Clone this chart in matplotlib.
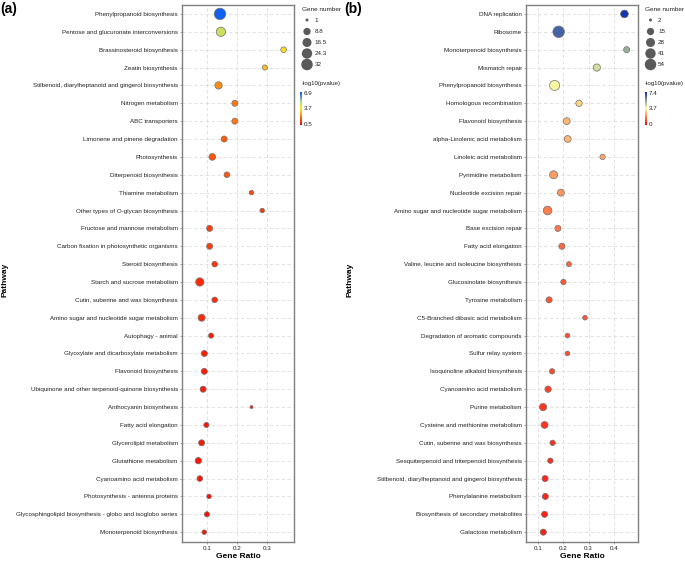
import matplotlib
matplotlib.use("Agg")
import matplotlib.pyplot as plt
import numpy as np
from matplotlib.colors import LinearSegmentedColormap, Normalize

plt.rcParams['font.family'] = ['Liberation Sans', 'DejaVu Sans']

# ---------------- Panel (a) data ----------------
a_pathways = [
    "Phenylpropanoid biosynthesis",
    "Pentose and glucuronate interconversions",
    "Brassinosteroid biosynthesis",
    "Zeatin biosynthesis",
    "Stilbenoid, diarylheptanoid and gingerol biosynthesis",
    "Nitrogen metabolism",
    "ABC transporters",
    "Limonene and pinene degradation",
    "Photosynthesis",
    "Diterpenoid biosynthesis",
    "Thiamine metabolism",
    "Other types of O-glycan biosynthesis",
    "Fructose and mannose metabolism",
    "Carbon fixation in photosynthetic organisms",
    "Steroid biosynthesis",
    "Starch and sucrose metabolism",
    "Cutin, suberine and wax biosynthesis",
    "Amino sugar and nucleotide sugar metabolism",
    "Autophagy - animal",
    "Glyoxylate and dicarboxylate metabolism",
    "Flavonoid biosynthesis",
    "Ubiquinone and other terpenoid-quinone biosynthesis",
    "Anthocyanin biosynthesis",
    "Fatty acid elongation",
    "Glycerolipid metabolism",
    "Glutathione metabolism",
    "Cyanoamino acid metabolism",
    "Photosynthesis - antenna proteins",
    "Glycosphingolipid biosynthesis - globo and isoglobo series",
    "Monoterpenoid biosynthesis",
]
a_ratio = [0.143, 0.146, 0.357, 0.294, 0.138, 0.193, 0.193, 0.157, 0.117, 0.166,
           0.249, 0.285, 0.108, 0.108, 0.125, 0.075, 0.125, 0.081, 0.113, 0.090,
           0.090, 0.086, 0.249, 0.097, 0.081, 0.070, 0.075, 0.106, 0.099, 0.090]
a_count = [32, 18, 4, 3, 9, 5, 5, 5, 7, 4,
           2, 2, 5, 5, 4, 13, 4, 8, 3, 5,
           5, 5, 1, 3, 5, 6, 4, 2, 3, 2]
a_logp = [6.9, 4.6, 3.5, 3.0, 2.3, 2.0, 2.0, 1.6, 1.5, 1.5,
          1.3, 1.1, 1.2, 1.2, 1.0, 0.9, 0.9, 0.9, 0.7, 0.7,
          0.7, 0.7, 0.6, 0.6, 0.6, 0.6, 0.6, 0.5, 0.5, 0.5]
a_size_breaks = [1, 8.8, 16.5, 24.3, 32]
a_size_labels = ["1", "8.8", "16.5", "24.3", "32"]
a_color_ticks = [0.5, 3.7, 6.9]
a_color_labels = ["0.5", "3.7", "6.9"]
a_xticks = [0.1, 0.2, 0.3]

# ---------------- Panel (b) data ----------------
b_pathways = [
    "DNA replication",
    "Ribosome",
    "Monoterpenoid biosynthesis",
    "Mismatch repair",
    "Phenylpropanoid biosynthesis",
    "Homologous recombination",
    "Flavonoid biosynthesis",
    "alpha-Linolenic acid metabolism",
    "Linoleic acid metabolism",
    "Pyrimidine metabolism",
    "Nucleotide excision repair",
    "Amino sugar and nucleotide sugar metabolism",
    "Base excision repair",
    "Fatty acid elongation",
    "Valine, leucine and isoleucine biosynthesis",
    "Glucosinolate biosynthesis",
    "Tyrosine metabolism",
    "C5-Branched dibasic acid metabolism",
    "Degradation of aromatic compounds",
    "Sulfur relay system",
    "Isoquinoline alkaloid biosynthesis",
    "Cyanoamino acid metabolism",
    "Purine metabolism",
    "Cysteine and methionine metabolism",
    "Cutin, suberine and wax biosynthesis",
    "Sesquiterpenoid and triterpenoid biosynthesis",
    "Stilbenoid, diarylheptanoid and gingerol biosynthesis",
    "Phenylalanine metabolism",
    "Biosynthesis of secondary metabolites",
    "Galactose metabolism",
]
b_ratio = [0.443, 0.181, 0.452, 0.333, 0.165, 0.262, 0.213, 0.217, 0.356, 0.161,
           0.190, 0.137, 0.178, 0.194, 0.222, 0.200, 0.143, 0.286, 0.216, 0.216,
           0.155, 0.139, 0.119, 0.125, 0.157, 0.148, 0.127, 0.128, 0.125, 0.120]
b_count = [18, 54, 9, 15, 37, 10, 13, 13, 6, 20,
           13, 25, 9, 9, 5, 6, 9, 4, 4, 4,
           6, 10, 15, 13, 6, 6, 9, 9, 9, 9]
b_logp = [7.4, 6.6, 5.3, 4.4, 3.8, 3.0, 2.6, 2.6, 2.3, 2.2,
          2.1, 1.7, 1.6, 1.4, 1.3, 1.2, 1.1, 1.1, 1.0, 1.0,
          0.9, 0.8, 0.6, 0.6, 0.5, 0.5, 0.4, 0.4, 0.3, 0.3]
b_size_breaks = [2, 15, 28, 41, 54]
b_size_labels = ["2", "15", "28", "41", "54"]
b_color_ticks = [0.0, 3.7, 7.4]
b_color_labels = ["0", "3.7", "7.4"]
b_xticks = [0.1, 0.2, 0.3, 0.4]

# ---------------- styling ----------------
W, H = 685, 561
fig = plt.figure(figsize=(W / 100, H / 100), dpi=100)

cmap_a = LinearSegmentedColormap.from_list(
    "a", [(0.0, "#FF0000"), (0.5, "#FFEE22"), (0.72, "#A6D48A"), (1.0, "#0055FF")])
cmap_b = LinearSegmentedColormap.from_list(
    "b", [(0.0, "#FF0000"), (0.5, "#FFFFA0"), (0.72, "#90AA9C"), (1.0, "#0A2AB0")])


def px_rect(x0, y0, x1, y1):
    return [x0 / W, 1 - y1 / H, (x1 - x0) / W, (y1 - y0) / H]


def size_fn(c, cmin, cmax, dmin=3.0, dmax=11.5):
    c = np.asarray(c, dtype=float)
    d_px = dmin + (dmax - dmin) * np.sqrt((c - cmin) / (cmax - cmin))
    return (d_px * 0.72) ** 2


overlay = fig.add_axes([0, 0, 1, 1], zorder=5)
overlay.set_xlim(0, W)
overlay.set_ylim(H, 0)
overlay.axis("off")


def panel(rect, paths, ratio, count, logp, xlim, xticks, cmap, vmin, vmax,
          size_breaks, size_labels, cticks, clabels, leg_x, cbar_x, letter,
          letter_x, ylabel_x):
    ax = fig.add_axes(px_rect(*rect))
    cmin, cmax = size_breaks[0], size_breaks[-1]
    norm = Normalize(vmin=vmin, vmax=vmax)
    ax.scatter(ratio, paths, s=size_fn(count, cmin, cmax), c=logp, cmap=cmap,
               norm=norm, edgecolors="#707070", linewidths=0.5, zorder=3)
    ax.set_xlim(*xlim)
    ax.set_ylim(29.55, -0.5)
    ax.set_xticks(xticks)
    ax.set_xticklabels([f"{t:.1f}" for t in xticks])
    ax.grid(True, linestyle=(0, (4, 3)), color="#DCDCDC", linewidth=0.6, zorder=0)
    ax.set_axisbelow(True)
    for sp in ax.spines.values():
        sp.set_color("#7F7F7F")
        sp.set_linewidth(1.0)
    ax.tick_params(axis="both", labelsize=4.5, length=1.5, width=0.5,
                   color="#7F7F7F", pad=1.5, labelcolor="#222222")
    xc = (rect[0] + rect[2]) / 2
    overlay.text(xc, 556.5, "Gene Ratio", fontsize=6, fontweight="bold",
                 ha="center", va="center")
    fig.text(ylabel_x / W, 1 - 280 / H, "Pathway", rotation=90, fontsize=6,
             fontweight="bold", ha="center", va="center")
    fig.text(letter_x / W, 1 - 9 / H, letter, fontsize=10, fontweight="bold",
             ha="left", va="center")

    # size legend
    overlay.text(leg_x - 5, 9.5, "Gene number", fontsize=4.6, ha="left",
                 va="center", color="#222222")
    leg_y = [20, 31.5, 42.5, 53.5, 64.5]
    overlay.scatter([leg_x] * 5, leg_y, s=size_fn(size_breaks, cmin, cmax),
                    color="#5A5A5A", edgecolors="none")
    for yy, lab in zip(leg_y, size_labels):
        overlay.text(leg_x + 7.5, yy, lab, fontsize=4.5, ha="left",
                     va="center", color="#222222")

    # colour legend
    overlay.text(leg_x - 5.5, 83.5, "-log10(pvalue)", fontsize=4.4, ha="left",
                 va="center", color="#222222")
    cax = fig.add_axes(px_rect(cbar_x, 92, cbar_x + 2.6, 125))
    cb = fig.colorbar(plt.cm.ScalarMappable(norm=norm, cmap=cmap), cax=cax)
    cb.outline.set_visible(False)
    cb.set_ticks(cticks)
    cb.set_ticklabels(clabels)
    cax.tick_params(labelsize=4.5, length=0, pad=1.2, labelcolor="#222222")
    return ax


panel((182, 5, 294, 542), a_pathways, a_ratio, a_count, a_logp,
      (0.015, 0.392), a_xticks, cmap_a, 0.3, 7.1, a_size_breaks, a_size_labels,
      a_color_ticks, a_color_labels, leg_x=307, cbar_x=299.5, letter="(a)",
      letter_x=0, ylabel_x=5)
panel((526, 5, 638, 542), b_pathways, b_ratio, b_count, b_logp,
      (0.051, 0.497), b_xticks, cmap_b, -0.2, 7.6, b_size_breaks, b_size_labels,
      b_color_ticks, b_color_labels, leg_x=650.5, cbar_x=644.5, letter="(b)",
      letter_x=344, ylabel_x=350)

fig.savefig("out.png", dpi=100)
